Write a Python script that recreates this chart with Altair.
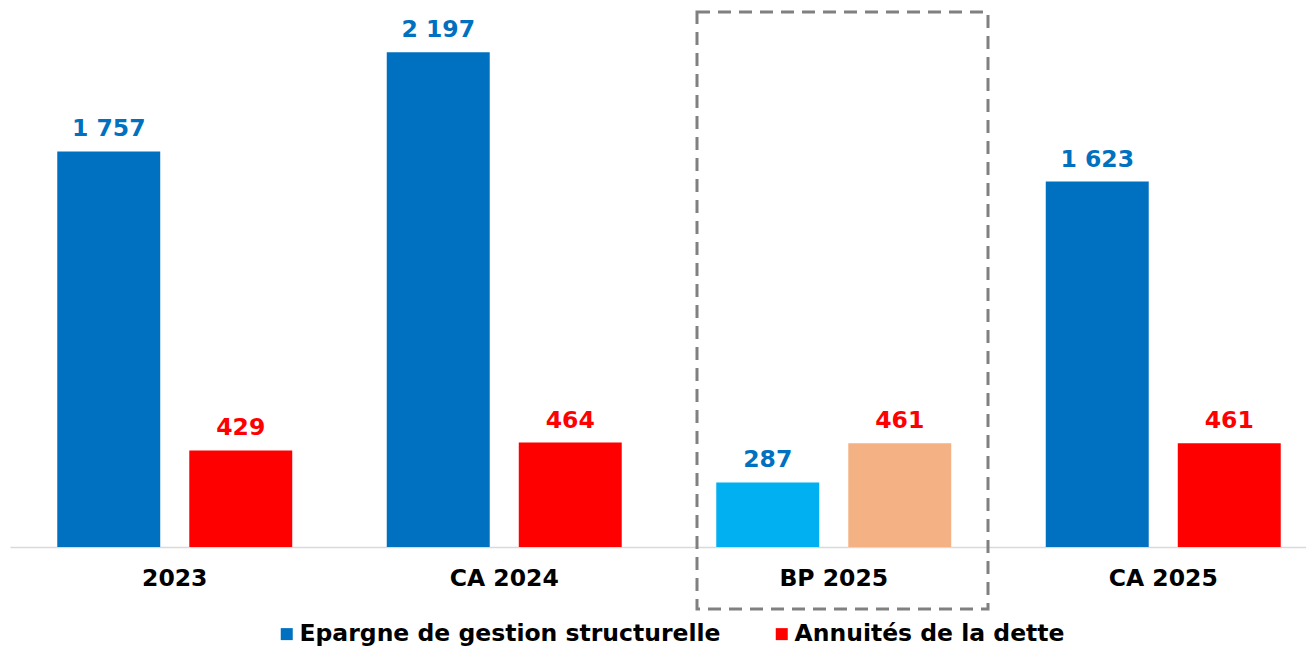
import altair as alt
import pandas as pd

categories = ["2023", "CA 2024", "BP 2025", "CA 2025"]
epargne = [1757, 2197, 287, 1623]
annuites = [429, 464, 461, 461]
series = ["Epargne de gestion structurelle", "Annuités de la dette"]
highlight = "BP 2025"

color_keys = ["Epargne de gestion structurelle", "Annuités de la dette", "Epargne BP", "Annuités BP"]
color_vals = ["#0070C0", "#FF0000", "#00B0F0", "#F4B183"]
label_colors = {"Epargne de gestion structurelle": "#0070C0", "Annuités de la dette": "#FF0000"}

rows = []
for c, e, a in zip(categories, epargne, annuites):
    for s, v in zip(series, [e, a]):
        if c == highlight:
            key = "Epargne BP" if s == series[0] else "Annuités BP"
        else:
            key = s
        rows.append({
            "cat": c, "serie": s, "value": v, "key": key,
            "label": f"{v:,}".replace(",", " "),
            "lcolor": label_colors[s],
        })
df = pd.DataFrame(rows)

FONT = "DejaVu Sans"
FS = 23.5
W = 1296
H = 535
YMAX = 2376

x_enc = alt.X(
    "cat:N", sort=categories,
    scale=alt.Scale(range=[0, 1318], paddingInner=0, paddingOuter=0),
    axis=alt.Axis(title=None, labelAngle=0, ticks=False, domainColor="#D9D9D9",
                  domainWidth=1.5, labelFont=FONT, labelFontSize=FS,
                  labelFontWeight="bold", labelColor="#000000", labelPadding=19),
)
xoff = alt.XOffset("serie:N", sort=series,
                   scale=alt.Scale(paddingInner=0.22, paddingOuter=0.358))
y_enc = alt.Y("value:Q", scale=alt.Scale(domain=[0, YMAX], nice=False), axis=None)

base = alt.Chart(df)

bars = base.mark_bar().encode(
    x=x_enc, xOffset=xoff, y=y_enc,
    color=alt.Color(
        "key:N",
        scale=alt.Scale(domain=color_keys, range=color_vals),
        legend=alt.Legend(
            values=series, title=None, orient="none", direction="horizontal",
            legendX=265, legendY=610, symbolType="square", symbolSize=144,
            symbolStrokeWidth=0, labelFont=FONT, labelFontSize=FS,
            labelFontWeight="bold", labelColor="#000000", labelLimit=0,
            labelOffset=1, columnPadding=49,
        ),
    ),
)

labels = base.mark_text(baseline="alphabetic", dy=-15, fontSize=FS,
                        fontWeight="bold", font=FONT).encode(
    x=x_enc, xOffset=xoff, y=y_enc,
    text="label:N",
    color=alt.Color("lcolor:N", scale=None),
)

frame = alt.Chart(pd.DataFrame({"cat": [highlight]})).mark_bar(
    filled=False, stroke="#808080", strokeWidth=3, strokeDash=[13, 8],
    width=291, xOffset=8.75,
).encode(
    x=x_enc,
    y=alt.value(0), y2=alt.value(H + 62),
)

chart = alt.layer(bars, labels, frame).properties(
    width=W, height=H,
    padding={"left": 2, "top": 4, "right": 0, "bottom": 100},
    autosize=alt.AutoSizeParams(type="none"),
).configure_view(stroke=None)

chart.save("out.html", embed_options={"renderer": "svg", "actions": False})
